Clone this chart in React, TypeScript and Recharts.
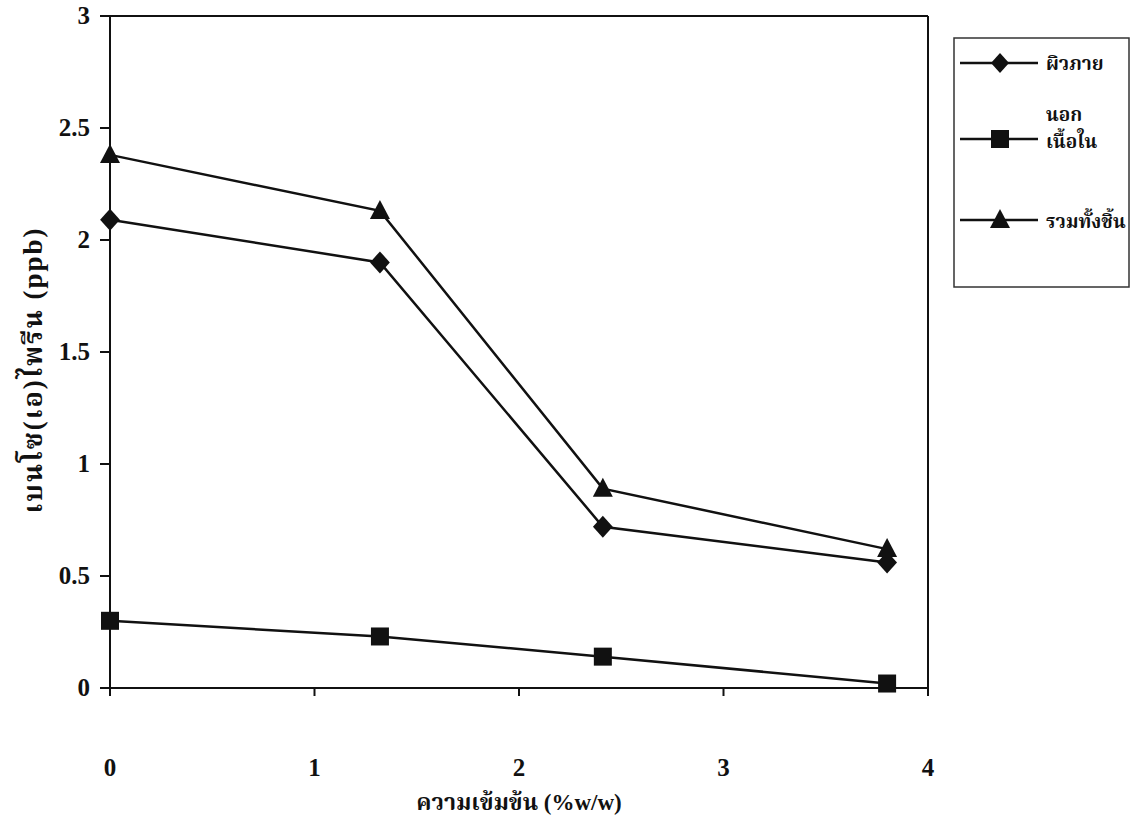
import React from "react"
import { Line, LineChart, ReferenceLine, XAxis, YAxis } from "recharts"

// concentration (%w/w)
const concentration = [0, 1.32, 2.41, 3.8]
// benzo(a)pyrene (ppb)
const outerSkin = [2.09, 1.9, 0.72, 0.56]
const innerFlesh = [0.3, 0.23, 0.14, 0.02]
const wholePiece = [2.38, 2.13, 0.89, 0.62]

const seriesNames = ["ผิวภายนอก", "เนื้อใน", "รวมทั้งชิ้น"]
const xTicks = [0, 1, 2, 3, 4]
const yTicks = [0, 0.5, 1, 1.5, 2, 2.5, 3]

const FONT = '"Liberation Serif", "Noto Serif Thai", "Noto Sans Thai", "Loma", "Garuda", serif'

const chartData = concentration.map((x, i) => ({
  x,
  outer: outerSkin[i],
  inner: innerFlesh[i],
  whole: wholePiece[i],
}))

function Diamond({ cx, cy, size = 11 }: any) {
  if (cx == null || cy == null) return null
  return <path d={`M${cx},${cy - size}L${cx + size * 0.9},${cy}L${cx},${cy + size}L${cx - size * 0.9},${cy}Z`} fill="#111" />
}

function Square({ cx, cy, size = 9 }: any) {
  if (cx == null || cy == null) return null
  return <rect x={cx - size} y={cy - size} width={size * 2} height={size * 2} fill="#111" />
}

function Triangle({ cx, cy, size = 10 }: any) {
  if (cx == null || cy == null) return null
  return <path d={`M${cx},${cy - size * 1.1}L${cx + size},${cy + size * 0.8}L${cx - size},${cy + size * 0.8}Z`} fill="#111" />
}

function XTick({ x, y, payload }: any) {
  return (
    <text x={x} y={y + 78} textAnchor="middle" fontFamily={FONT} fontWeight="bold" fontSize={25} fill="#111">
      {payload.value}
    </text>
  )
}

function YTick({ x, y, payload }: any) {
  return (
    <text x={x} y={y + 8} textAnchor="end" fontFamily={FONT} fontWeight="bold" fontSize={25} fill="#111">
      {payload.value}
    </text>
  )
}

// legend box, the first name wraps onto a second line as in the original
function LegendBox() {
  const entry = (y: number, marker: React.ReactNode) => (
    <g>
      <line x1={7} x2={85} y1={y} y2={y} stroke="#111" strokeWidth={2.5} />
      {marker}
    </g>
  )
  const textProps = { fontFamily: FONT, fontWeight: "bold", fontSize: 19, fill: "#111" } as const
  return (
    <svg width={178} height={252} style={{ position: "absolute", left: 953, top: 37 }}>
      <rect x={1} y={1} width={175} height={249} fill="#fff" stroke="#333" strokeWidth={1.5} />
      {entry(26, <Diamond cx={47} cy={26} size={10} />)}
      <text x={93} y={33} {...textProps}>{seriesNames[0].slice(0, 6)}</text>
      {entry(102, <Square cx={47} cy={102} size={9} />)}
      <text x={93} y={84} {...textProps}>{seriesNames[0].slice(6)}</text>
      <text x={93} y={111} {...textProps}>{seriesNames[1]}</text>
      {entry(183, <Triangle cx={47} cy={183} size={10} />)}
      <text x={93} y={191} {...textProps}>{seriesNames[2]}</text>
    </svg>
  )
}

export default function App() {
  return (
    <div style={{ position: "absolute", left: 0, top: 0, width: 1140, height: 826, background: "#fff" }}>
      <LineChart width={1140} height={826} data={chartData} margin={{ top: 16, right: 212, left: 30, bottom: 38 }}>
        <XAxis
          dataKey="x"
          type="number"
          domain={[0, 4]}
          ticks={xTicks}
          tick={<XTick />}
          tickSize={8}
          stroke="#111"
          strokeWidth={2}
          height={100}
          label={{
            value: "ความเข้มข้น (%w/w)",
            position: "insideBottom",
            offset: -22,
            style: { fontFamily: FONT, fontWeight: "bold", fontSize: 23, fill: "#111" },
          }}
        />
        <YAxis
          type="number"
          domain={[0, 3]}
          ticks={yTicks}
          tick={<YTick />}
          tickSize={10}
          tickMargin={10}
          stroke="#111"
          strokeWidth={2}
          width={80}
          label={{
            value: "เบนโซ(เอ)ไพรีน (ppb)",
            angle: -90,
            position: "insideLeft",
            offset: 0,
            dx: 2,
            dy: 18,
            style: { textAnchor: "middle", fontFamily: FONT, fontWeight: "bold", fontSize: 27, letterSpacing: 2, fill: "#111" },
          }}
        />
        <ReferenceLine y={3} stroke="#111" strokeWidth={2} />
        <ReferenceLine x={4} stroke="#111" strokeWidth={2} />
        <Line dataKey="outer" name={seriesNames[0]} stroke="#111" strokeWidth={2.5} dot={<Diamond />} isAnimationActive={false} />
        <Line dataKey="inner" name={seriesNames[1]} stroke="#111" strokeWidth={2.5} dot={<Square />} isAnimationActive={false} />
        <Line dataKey="whole" name={seriesNames[2]} stroke="#111" strokeWidth={2.5} dot={<Triangle />} isAnimationActive={false} />
      </LineChart>
      <LegendBox />
    </div>
  )
}
